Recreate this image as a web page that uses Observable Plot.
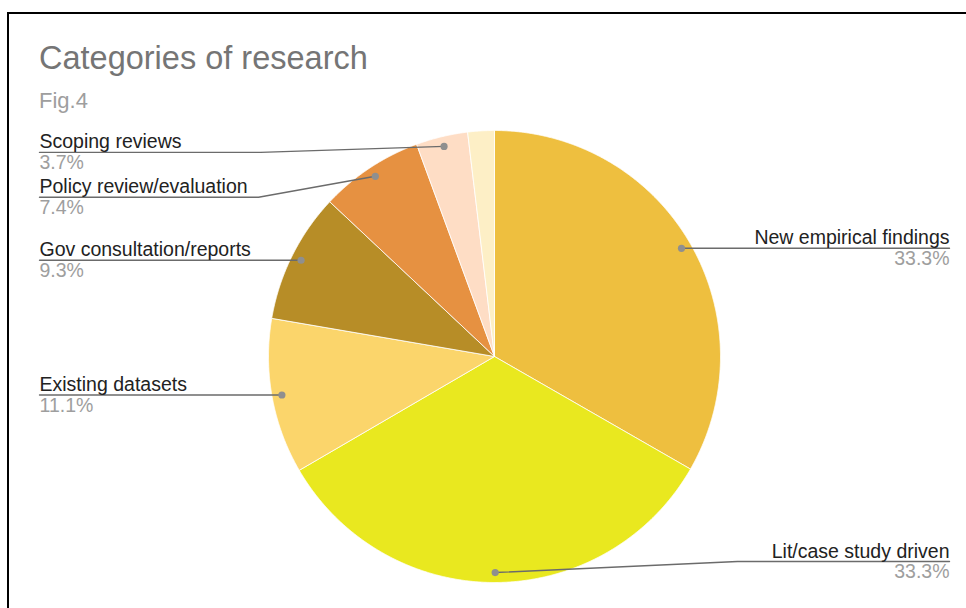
<!DOCTYPE html>
<html><head><meta charset="utf-8">
<script src="https://cdn.jsdelivr.net/npm/d3@7"></script>
<script src="https://cdn.jsdelivr.net/npm/@observablehq/plot@0.6"></script>
<style>
body{margin:0;background:#fff;font-family:"Liberation Sans",Arial,sans-serif}
#wrap{position:relative;width:966px;height:608px;overflow:hidden;background:#fff}
#frame{position:absolute;left:7px;top:12px;width:990px;height:640px;border:2px solid #000;box-sizing:border-box}
#title{position:absolute;left:39px;top:39px;font-size:32.5px;color:#757575;line-height:1.2}
#sub{position:absolute;left:39px;top:88px;font-size:22px;color:#9e9e9e;line-height:1.2}
#chart{position:absolute;left:0;top:0}
</style></head><body>
<div id="wrap"><div id="frame"></div><div id="title">Categories of research</div><div id="sub">Fig.4</div><div id="chart"></div></div>
<script>
const categories = ["New empirical findings","Lit/case study driven","Existing datasets","Gov consultation/reports","Policy review/evaluation","Scoping reviews","Other"];
const values = [33.3,33.3,11.1,9.3,7.4,3.7,1.9];
const colors = ["#EEBF3F","#E9E81F","#FBD56B","#B78D27","#E69141","#FEDDC5","#FDEFC6"];
const labelled = [true,true,true,true,true,true,false];

// layout (pixels)
const W = 966, H = 608, CX = 494, CY = 356, K = 226;
const DOT_R = 0.956;
const layout = {
  "New empirical findings": {side:"right", shift:0},
  "Lit/case study driven": {side:"right", shift:-11, bend:737},
  "Existing datasets": {side:"left", shift:0},
  "Gov consultation/reports": {side:"left", shift:0},
  "Policy review/evaluation": {side:"left", shift:21, bend:258},
  "Scoping reviews": {side:"left", shift:6, bend:260}
};
const LEFT_X = (39 - CX) / K, RIGHT_X = (949 - CX) / K;

const arcs = d3.pie().sort(null).value(d => d)(values);
const marks = [];
arcs.forEach((a, i) => {
  const pts = [{x:0, y:0}];
  const n = Math.max(2, Math.ceil((a.endAngle - a.startAngle) / 0.004));
  for (let k = 0; k <= n; k++) {
    const t = a.startAngle + (a.endAngle - a.startAngle) * k / n;
    pts.push({x: Math.sin(t), y: Math.cos(t)});
  }
  pts.push({x:0, y:0});
  marks.push(Plot.line(pts, {x:"x", y:"y", fill: colors[i], stroke:"#fff", strokeWidth:0.8, strokeLinejoin:"round"}));
});

const leaders = [], dots = [], leftLabels = [], rightLabels = [];
arcs.forEach((a, i) => {
  if (!labelled[i]) return;
  const name = categories[i];
  const L = layout[name];
  const mid = (a.startAngle + a.endAngle) / 2;
  const dx = DOT_R * Math.sin(mid), dy = DOT_R * Math.cos(mid);
  const ly = dy - L.shift / K;
  const ex = L.side === "left" ? LEFT_X : RIGHT_X;
  leaders.push({name, x: dx, y: dy});
  if (L.bend !== undefined) leaders.push({name, x: (L.bend - CX) / K, y: ly});
  leaders.push({name, x: ex, y: ly});
  dots.push({x: dx, y: dy});
  const lab = {name, pct: d3.format(".1f")(values[i]) + "%", x: ex, y: ly};
  (L.side === "left" ? leftLabels : rightLabels).push(lab);
});

marks.push(Plot.line(leaders, {x:"x", y:"y", z:"name", stroke:"#6b6b6b", strokeWidth:1.4}));
marks.push(Plot.dot(dots, {x:"x", y:"y", r:3.6, fill:"#8f8f8f", stroke:"none"}));
for (const [set, anchor] of [[leftLabels, "start"], [rightLabels, "end"]]) {
  marks.push(Plot.text(set, {x:"x", y:"y", text:"name", textAnchor: anchor, lineAnchor:"bottom", dy:-4, fontSize:19.5, fill:"#222"}));
  marks.push(Plot.text(set, {x:"x", y:"y", text:"pct", textAnchor: anchor, lineAnchor:"top", dy:3, fontSize:19.5, fill:"#9e9e9e"}));
}

const chart = Plot.plot({
  width: W, height: H,
  margin: 0,
  x: {domain: [-CX / K, (W - CX) / K], range: [0, W], axis: null},
  y: {domain: [-(H - CY) / K, CY / K], range: [H, 0], axis: null},
  style: {background: "transparent", fontFamily: "'Liberation Sans', Arial, sans-serif"},
  marks
});
document.getElementById("chart").appendChild(chart);
</script>
</body></html>
